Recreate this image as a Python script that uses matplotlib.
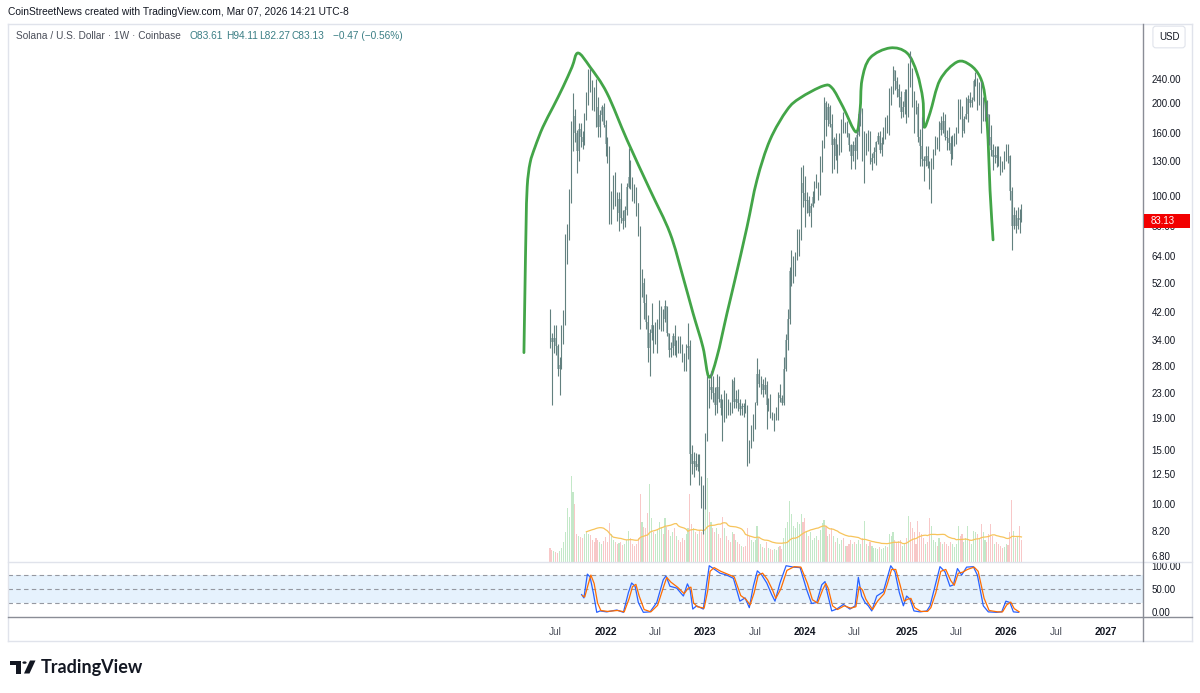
'''Solana / U.S. Dollar 1W チャート (TradingView 風) を再現する'''

import numpy as np
import pandas as pd
import matplotlib
matplotlib.use('Agg')
import matplotlib.pyplot as plt
import matplotlib.dates as mdates
from matplotlib.lines import Line2D
from matplotlib.patches import Rectangle, Circle, Polygon, PathPatch
from matplotlib.path import Path

plt.rcParams['font.family'] = ['Liberation Sans', 'DejaVu Sans']

### データ (週足, 2021-06-14 から)
first_open = 40.5
close = [
    # 2021
    34.5, 33.5, 34.5, 32.5, 27.5, 28.2, 36.5, 40.5, 66, 73, 96, 170, 182, 160, 140, 165, 155, 150, 180, 205,
    245, 230, 215, 205, 195, 168, 183, 195, 170,
    # 2022
    147, 140, 95, 98, 112, 98, 88, 98, 85, 83, 90, 107, 115, 111, 102, 101, 95, 77, 52, 52,
    45, 39, 32, 36, 38, 35, 36, 38, 39, 42, 40, 44, 36, 31.5, 32, 35, 32.5, 33.5, 33, 32,
    30, 28, 32, 32.5, 14.5, 13.5, 13.8, 13.2, 13.5, 12, 11.2, 10,
    # 2023
    16.5, 24, 23.5, 24, 23, 21, 24, 22, 20.5, 19.5, 22.5, 21, 20.6, 20.2, 25, 21.5, 22, 21.3, 20.4, 20.8,
    20.6, 20.4, 15.5, 15.4, 17.2, 19, 21.3, 26.5, 24.5, 24.5, 23.5, 24.3, 21, 21.3, 19.6, 19.4, 19.4, 19.4, 22.6, 22.1,
    21.3, 27.5, 34, 40, 57, 57, 58, 63, 71, 73, 110, 102,
    # 2024
    96, 97, 88, 93, 99, 110, 110, 103, 130, 145, 200, 176, 195, 171, 146, 153, 135, 146, 146, 168,
    165, 165, 160, 146, 135, 146, 140, 158, 185, 185, 136, 152, 145, 160, 129, 133, 139, 150, 157, 141,
    149, 162, 176, 164, 211, 215, 257, 236, 222, 210, 187, 195, 218,
    # 2025
    185, 250, 240, 215, 200, 195, 155, 145, 132, 130, 135, 125, 118, 131, 140, 149, 147, 172, 164, 175,
    155, 154, 149, 137, 151, 157, 163, 196, 186, 162, 178, 185, 206, 200, 205, 236, 240, 209, 229, 183,
    186, 195, 185, 155, 141, 134, 136, 133, 131, 126, 123, 136,
    # 2026
    140, 135, 104, 80, 87, 80, 85, 83.61, 83.13]
high = [
    43, 36, 38, 38, 33, 30, 38, 42.5, 75, 81, 105, 175, 216, 192, 164, 173, 172, 163, 186, 218,
    259, 260, 238, 225, 240, 210, 190, 198, 200,
    176, 155, 145, 104, 117, 120, 103, 103, 110, 90, 93, 110, 143, 131, 115, 109, 107, 95, 80, 58,
    54, 48, 41, 37, 45, 38, 39, 40, 46, 44, 43, 46, 44, 36, 33.5, 36, 38, 34, 35, 35,
    33, 31, 33, 38.8, 34, 15.5, 14.8, 14.6, 14.5, 14.5, 12.3, 11.5,
    17, 26, 25.5, 27, 26, 24, 26.5, 26, 22.7, 22, 23.5, 23, 22, 21.5, 25.5, 25.8, 23.5, 23.6, 22, 21.2,
    21.2, 22, 21, 16.1, 18, 19.6, 21.5, 29.8, 27.5, 26, 25.5, 25.8, 25, 22.1, 22.7, 19.9, 19.7, 20.6, 23.1, 24.6,
    22.6, 30, 35.7, 43, 59, 67, 64, 66, 78, 78, 124, 126,
    116, 103, 100, 95, 104, 112, 118, 111, 135, 152, 210, 203, 200, 198, 185, 155, 160, 147, 160, 178,
    187, 174, 175, 160, 148, 151, 155, 162, 187, 193, 193, 162, 160, 164, 162, 138, 144, 151, 161, 162,
    155, 167, 180, 183, 224, 228, 264, 257, 244, 231, 220, 203, 223,
    222, 270, 295, 260, 220, 205, 200, 165, 180, 135, 145, 145, 130, 133, 142, 157, 155, 175, 182, 188,
    184, 164, 168, 156, 158, 160, 168, 207, 206, 196, 182, 209, 212, 218, 210, 240, 253, 242, 235, 237,
    210, 202, 205, 185, 170, 148, 145, 145, 145, 135, 130, 140,
    148, 147, 136, 107, 92, 90, 92, 91, 94.11]
low = [
    32, 21, 31, 30.5, 26, 22.6, 27.5, 33, 38, 60, 72, 95, 140, 150, 119, 130, 144, 142, 146, 176,
    197, 218, 190, 189, 168, 155, 155, 175, 168,
    135, 128, 81, 81, 91, 93, 83, 77, 82, 78, 79, 87, 106, 105, 96, 95, 86, 74, 37, 47,
    40, 37, 29, 26, 34, 31, 33, 31, 37, 36.5, 36.5, 39, 35, 30, 30, 30.5, 30.5, 30, 31, 31,
    29, 27, 27, 29.5, 11.5, 12.5, 12.2, 12.9, 12.8, 11.5, 9.7, 8,
    9.6, 16, 20.5, 22, 21.5, 19.5, 19.7, 21.5, 19.5, 16, 18.5, 19, 19.5, 19.5, 19.8, 20.5, 20.5, 20, 19.5, 19.5,
    19.2, 19.8, 13.3, 13.6, 15.2, 16, 17.5, 21, 24, 22.7, 22.3, 22.8, 17.5, 20, 19, 18.8, 17.3, 18.8, 18.8, 21.5,
    20.9, 21, 27, 31.5, 38.5, 51, 52, 55, 62, 64, 72, 92,
    79, 88, 86, 79, 92, 95, 106, 97, 101, 120, 143, 157, 169, 167, 119, 122, 131, 119, 136, 139,
    160, 160, 155, 140, 122, 130, 122, 132, 156, 169, 130, 110, 136, 140, 127, 121, 128, 126, 147, 138,
    135, 147, 153, 160, 158, 197, 215, 221, 210, 194, 179, 180, 185,
    172, 180, 225, 195, 160, 185, 150, 125, 125, 112, 125, 123, 105, 95, 122, 136, 142, 140, 158, 160,
    152, 141, 141, 126, 132, 145, 148, 160, 178, 155, 160, 178, 174, 194, 195, 204, 228, 190, 198, 160,
    175, 175, 180, 146, 135, 121, 128, 124, 125, 117, 120, 122,
    130, 128, 97, 67, 78, 76, 78, 76, 82.27]
volume = [
    14, 12, 11, 10, 9, 11, 14, 20, 30, 54, 45, 86, 70, 58, 28, 26, 25, 24, 28, 30,
    28, 27, 22, 20, 24, 22, 20, 18, 21,
    25, 20, 39, 28, 22, 20, 18, 19, 20, 17, 18, 22, 31, 24, 18, 16, 18, 24, 68, 40,
    35, 34, 49, 78, 44, 30, 28, 33, 40, 34, 28, 44, 35, 32, 26, 30, 34, 26, 22, 20,
    24, 22, 28, 34, 68, 38, 34, 30, 28, 32, 30, 34,
    55, 84, 50, 40, 34, 30, 34, 28, 24, 45, 34, 26, 22, 20, 30, 28, 22, 20, 18, 16,
    15, 16, 34, 26, 22, 20, 22, 36, 24, 18, 15, 14, 20, 14, 13, 12, 13, 12, 15, 16,
    13, 24, 34, 40, 61, 48, 36, 34, 40, 38, 48, 40,
    44, 30, 26, 30, 22, 24, 26, 22, 32, 39, 42, 36, 26, 28, 34, 26, 20, 24, 18, 22,
    24, 16, 16, 18, 22, 18, 20, 18, 22, 18, 24, 41, 18, 16, 20, 16, 14, 14, 13, 15,
    13, 14, 16, 15, 28, 26, 30, 22, 20, 21, 22, 16, 18,
    24, 46, 40, 34, 30, 18, 41, 30, 28, 24, 18, 20, 44, 36, 22, 20, 16, 24, 20, 18,
    20, 18, 16, 20, 18, 15, 18, 36, 26, 28, 20, 24, 36, 22, 18, 31, 30, 28, 24, 38,
    30, 22, 20, 28, 38, 26, 18, 20, 18, 16, 14, 15,
    18, 17, 30, 62, 31, 24, 26, 36, 22]

#- Stoch RSI (週番号, 値) 画像から読み取り
k_weeks = [16.5, 17.7, 19.5, 20.9, 22.6, 24.4, 26.1, 29.6, 34.8, 38.3,
           40.9, 42.6, 44.4, 46.1, 48.7, 52.2, 55.7, 59.1, 60.5, 62.6,
           66.1, 69.6, 71.7, 73.1, 74.5, 76.5, 80.0, 81.8, 83.1, 85.2,
           88.7, 92.2, 95.7, 99.1, 101.8, 104.0, 106.1, 108.2, 110.5, 113.1,
           115.7, 117.4, 120.0, 123.2, 127.0, 130.5, 133.9, 136.5, 139.2, 141.8,
           143.5, 144.7, 147.0, 149.6, 153.1, 156.5, 159.2, 160.9, 162.6, 164.4,
           166.1, 167.9, 170.5, 173.9, 175.7, 177.8, 180.0, 182.3, 184.4, 186.1,
           187.9, 189.9, 193.1, 196.6, 198.3, 200.9, 203.5, 206.1, 208.7, 210.5,
           212.6, 214.8, 217.4, 220.9, 223.0, 226.1, 228.7, 233.1, 235.7, 237.9,
           240.0, 241.8, 244.4]
k_vals = [38, 31, 82, 76, 42, 0, 3, 1, 5, 0,
          42, 63, 56, 21, 0, 1, 21, 70, 78, 56,
          52, 35, 61, 49, 7, 14, 7, 63, 100, 94,
          84, 80, 73, 24, 31, 10, 56, 89, 80, 63,
          38, 24, 63, 100, 97, 96, 49, 19, 21, 59,
          66, 42, 3, 7, 17, 7, 14, 75, 35, 21,
          14, 3, 35, 44, 70, 100, 87, 42, 14, 35,
          28, 3, 1, 3, 14, 56, 98, 87, 56, 59,
          94, 80, 97, 98, 80, 14, 1, 0, 1, 24,
          21, 1, 0]
d_vals = [36, 33, 60, 80, 62, 20, 4, 2, 4, 1,
          30, 55, 60, 35, 6, 1, 15, 58, 75, 65,
          54, 40, 52, 54, 20, 12, 9, 45, 88, 96,
          88, 82, 76, 36, 28, 16, 42, 80, 84, 70,
          48, 30, 50, 90, 98, 97, 62, 27, 20, 48,
          62, 52, 14, 6, 14, 9, 12, 55, 48, 28,
          17, 6, 24, 40, 62, 92, 92, 58, 24, 28,
          30, 10, 2, 2, 10, 42, 88, 92, 68, 58,
          84, 86, 92, 97, 88, 30, 4, 1, 1, 16,
          22, 8, 1]

#- 手書きの緑の線 (週番号, 価格)
green_weeks = [-13.6, -13.1, -12.5, -11.9, -10.4, -7.8, -3.7, 1.6, 6.8, 11.5,
               14.6, 20.9, 29.7, 40.2, 52.2, 62.6, 69.4, 74.6, 79.8, 83.0,
               87.1, 92.4, 96.5, 102.8, 108.0, 114.8, 123.7, 130.5, 142.5, 147.2,
               152.9, 159.7, 161.8, 162.8, 167.0, 177.4, 186.3, 191.5, 194.6, 195.2,
               198.3, 203.5, 212.4, 219.2, 224.4, 227.0, 228.6, 229.6, 231.2]
green_prices = [31.0, 48.4, 79.3, 107.2, 128.0, 144.2, 167.5, 194.5, 225.9, 262.3,
                291.2, 262.3, 216.0, 152.0, 104.6, 75.8, 54.6, 41.7, 32.3, 25.8,
                30.0, 41.7, 53.4, 79.3, 112.7, 152.0, 190.2, 208.0, 227.6, 224.2,
                194.5, 161.3, 190.2, 238.0, 280.6, 302.4, 291.2, 250.8, 204.9, 167.5,
                186.0, 238.0, 272.3, 266.3, 243.4, 209.6, 152.0, 104.6, 72.0]

price_ticks = [6.8, 8.2, 10, 12.5, 15, 19, 23, 28, 34, 42, 52, 64, 80, 100, 130, 160, 200, 240]
stoch_ticks = [0, 50, 100]
tick_dates = ['2021-07-05', '2022-01-03', '2022-07-04', '2023-01-02', '2023-07-03', '2024-01-01',
              '2024-07-01', '2025-01-06', '2025-07-07', '2026-01-05', '2026-07-06', '2027-01-04']
tick_labels = ['Jul', '2022', 'Jul', '2023', 'Jul', '2024', 'Jul', '2025', 'Jul', '2026', 'Jul', '2027']
last_price = 83.13

### 準備
W, H = 1200, 693
def fx(px):
    return px / W
def fy(py):
    return 1 - py / H

dates = pd.date_range('2021-06-14', periods=len(close), freq='7D')
xd = mdates.date2num(dates)
t0 = xd[0]
opens = [first_open] + close[:-1]
up = np.array(close) >= np.array(opens)

day_px = 7 / 1.9164          #- 1 px あたりの日数
x_left = t0 - (550 - 8) * day_px
x_right = t0 + (1143 - 550) * day_px

fig = plt.figure(figsize=(W / 100, H / 100), dpi=100)
fig.patch.set_facecolor('white')

ax = fig.add_axes([fx(8), fy(562), (1143 - 8) / W, (562 - 24) / H])
axv = ax.twinx()
ax.set_zorder(axv.get_zorder() + 1)
ax.patch.set_visible(False)
axs = fig.add_axes([fx(8), fy(617), (1143 - 8) / W, (617 - 562) / H])

#### 出来高
vcol = ['#c3e8c8' if u else '#f8c8c8' for u in up]
axv.bar(xd, volume, width=4.0, color=vcol, linewidth=0)
vma = pd.Series(volume).rolling(20).mean()
axv.plot(xd, vma, color='#f7c45c', lw=0.9)
axv.set_ylim(0, 538)
axv.set_yticks([])
for s in axv.spines.values():
    s.set_visible(False)

#### ローソク足
ax.vlines(xd, low, high, color='#62807f', lw=0.8)
body_lo = np.minimum(opens, close)
body_h = np.abs(np.array(close) - np.array(opens))
ax.bar(xd, body_h, bottom=body_lo, width=3.6, color='#a9bcbc', linewidth=0)

#### 緑の線 (読み取った点を滑らかに結ぶ)
gp = np.column_stack([np.array(green_weeks), np.log10(green_prices)])
verts = [gp[0]]
codes = [Path.MOVETO]
for i in range(len(gp) - 1):
    p0 = gp[i - 1] if i > 0 else gp[i]
    p3 = gp[i + 2] if i + 2 < len(gp) else gp[i + 1]
    verts += [gp[i] + (gp[i + 1] - p0) / 6, gp[i + 1] - (p3 - gp[i]) / 6, gp[i + 1]]
    codes += [Path.CURVE4] * 3
verts = np.array(verts)
gpath = Path(np.column_stack([t0 + verts[:, 0] * 7, 10 ** verts[:, 1]]), codes)
ax.add_patch(PathPatch(gpath, fill=False, edgecolor='#43a548', lw=2.0,
                       capstyle='round', joinstyle='round'))

ax.set_yscale('log')
ax.set_ylim(6.48, 361.7)
ax.set_xlim(x_left, x_right)
ax.yaxis.tick_right()
ax.set_yticks(price_ticks)
ax.set_yticklabels([f'{p:.2f}' for p in price_ticks])
ax.yaxis.set_minor_locator(matplotlib.ticker.NullLocator())
ax.tick_params(axis='y', length=0, pad=6, labelsize=7, labelcolor='#131722')
ax.set_xticks([])
for s in ax.spines.values():
    s.set_visible(False)

#### 現在値ラベル
ydisp = ax.transData.transform((x_left, last_price))[1]
fig.patches.append(Rectangle((fx(1144), ydisp / H - 7 / H), 46 / W, 14 / H,
                             transform=fig.transFigure, facecolor='#f20000', edgecolor='none', zorder=5))
fig.text(fx(1151), ydisp / H, f'{last_price:.2f}', color='white', fontsize=7,
         va='center', ha='left', zorder=6)

#### Stoch RSI
axs.axhspan(20, 80, color='#e6f2fd', lw=0)
for lv in [80, 50, 20]:
    axs.axhline(lv, color='#9598a1', lw=0.8, ls=(0, (4, 3)))
axs.plot(t0 + np.array(k_weeks) * 7, k_vals, color='#2962ff', lw=0.9)
axs.plot(t0 + np.array(k_weeks) * 7 + 3, d_vals, color='#ff6d00', lw=0.9)
axs.set_xlim(x_left, x_right)
axs.set_ylim(-10, 108)
axs.yaxis.tick_right()
axs.set_yticks(stoch_ticks)
axs.set_yticklabels([f'{v:.2f}' for v in stoch_ticks])
axs.tick_params(axis='y', length=0, pad=6, labelsize=7, labelcolor='#131722')
axs.set_xticks(mdates.date2num(pd.to_datetime(tick_dates)))
axs.set_xticklabels(tick_labels)
axs.tick_params(axis='x', length=0, pad=7, labelsize=7.3, labelcolor='#131722')
for lab in axs.get_xticklabels():
    if lab.get_text() != 'Jul':
        lab.set_fontweight('bold')
    else:
        lab.set_color('#4a4e59')
for s in axs.spines.values():
    s.set_visible(False)

#### 枠線
def hline(y, x0, x1, c, lw=1.0):
    fig.add_artist(Line2D([fx(x0), fx(x1)], [fy(y), fy(y)], color=c, lw=lw))
def vline(x, y0, y1, c, lw=1.0):
    fig.add_artist(Line2D([fx(x), fx(x)], [fy(y0), fy(y1)], color=c, lw=lw))
hline(24, 8, 1192, '#e0e3eb')
hline(641, 8, 1192, '#e0e3eb')
vline(8, 24, 641, '#e0e3eb')
vline(1192, 24, 641, '#e0e3eb')
hline(562, 8, 1192, '#e0e3eb')
hline(617, 8, 1192, '#8a8d96')
vline(1143, 24, 641, '#8a8d96')

#### テキスト
fig.text(fx(8), fy(12), 'CoinStreetNews created with TradingView.com, Mar 07, 2026 14:21 UTC-8',
         fontsize=7.4, color='#131722', va='center')
fig.text(fx(16), fy(36), 'Solana / U.S. Dollar \u00b7 1W \u00b7 Coinbase', fontsize=7.3,
         color='#4a4e59', va='center')
for px, s in [(190, 'O83.61'), (226, 'H94.11'), (259, 'L82.27'), (291, 'C83.13'),
              (333, '\u22120.47 (\u22120.56%)')]:
    fig.text(fx(px), fy(36), s, fontsize=7.3, color='#3b7f85', va='center')
fig.text(fx(1169), fy(37), 'USD', fontsize=7, color='#131722', va='center', ha='center',
         bbox=dict(boxstyle='round,pad=0.6,rounding_size=0.3', fc='white', ec='#e0e3eb', lw=0.8))

#### TradingView ロゴ
logo = '#131722'
fig.patches.append(Rectangle((fx(10), fy(664.5)), 10.5 / W, 4 / H, transform=fig.transFigure,
                             facecolor=logo, edgecolor='none'))
fig.patches.append(Rectangle((fx(15.5), fy(673.5)), 5 / W, 13 / H, transform=fig.transFigure,
                             facecolor=logo, edgecolor='none'))
fig.patches.append(Circle((fx(24.5), fy(662.6)), 2.1 / W, transform=fig.transFigure,
                          facecolor=logo, edgecolor='none'))
fig.patches.append(Polygon([(fx(24), fy(673.5)), (fx(29.5), fy(673.5)), (fx(35.5), fy(660.5)),
                            (fx(30), fy(660.5))], closed=True, transform=fig.transFigure,
                           facecolor=logo, edgecolor='none'))
fig.text(fx(41), fy(673.5), 'TradingView', fontsize=13, fontweight='bold', color=logo,
         va='baseline', family=['Lato', 'DejaVu Sans'])

fig.savefig('out.png', dpi=100, facecolor='white')
